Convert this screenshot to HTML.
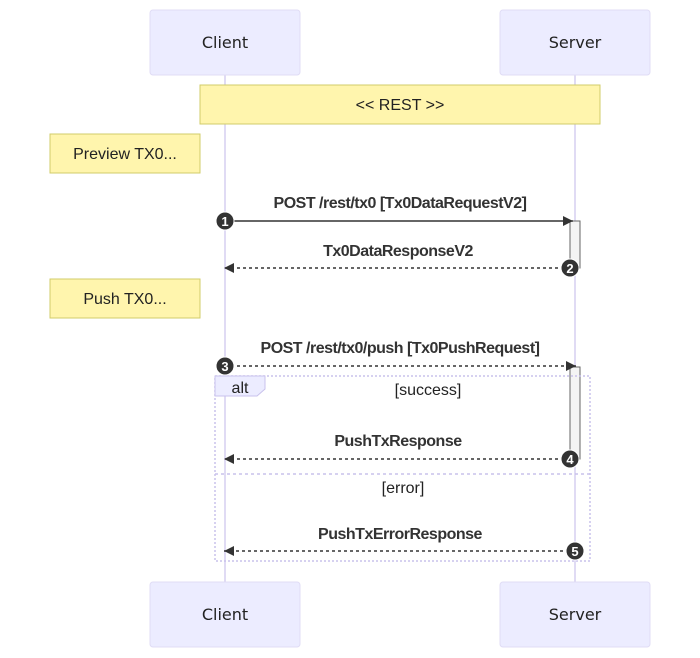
<!DOCTYPE html>
<html><head><meta charset="utf-8"><style>
html,body{margin:0;padding:0;background:#fff;width:700px;height:658px;overflow:hidden}
svg text{font-family:"Liberation Sans",Arial,sans-serif}
</style></head><body>
<svg width="700" height="658" viewBox="0 0 700 658" xmlns="http://www.w3.org/2000/svg">
<defs>
<marker id="ah" markerWidth="12" markerHeight="12" refX="10" refY="5" orient="auto" markerUnits="userSpaceOnUse"><path d="M0,0 L10,5 L0,10 z" fill="#333"/></marker>
</defs>
<line x1="225" y1="75" x2="225" y2="582" stroke="#d6cff0" stroke-width="1.5"/>
<line x1="575" y1="75" x2="575" y2="582" stroke="#d6cff0" stroke-width="1.5"/>
<g fill="#ececff" stroke="#e0dcf5" stroke-width="1">
<rect x="150" y="10" width="150" height="65" rx="3"/>
<rect x="500" y="10" width="150" height="65" rx="3"/>
<rect x="150" y="582" width="150" height="65" rx="3"/>
<rect x="500" y="582" width="150" height="65" rx="3"/>
</g>
<g font-size="16" fill="#222" text-anchor="middle">
<text x="225" y="48" style="font-family:'DejaVu Sans',sans-serif">Client</text>
<text x="575" y="48" style="font-family:'DejaVu Sans',sans-serif">Server</text>
<text x="225" y="620" style="font-family:'DejaVu Sans',sans-serif">Client</text>
<text x="575" y="620" style="font-family:'DejaVu Sans',sans-serif">Server</text>
</g>
<g fill="#fff5ad" stroke="#d0cc6a" stroke-width="1">
<rect x="200" y="85" width="400" height="39"/>
<rect x="50" y="134" width="150" height="39"/>
<rect x="50" y="279" width="150" height="39"/>
</g>
<g font-size="16" fill="#222" text-anchor="middle">
<text x="400" y="110">&lt;&lt; REST &gt;&gt;</text>
<text x="125" y="159">Preview TX0...</text>
<text x="125" y="304">Push TX0...</text>
</g>
<rect x="570" y="221" width="10" height="47" fill="#f4f4f4" stroke="#666"/>
<rect x="570" y="367" width="10" height="92" fill="#f4f4f4" stroke="#666"/>
<rect x="215" y="376" width="375" height="185" fill="none" stroke="#c9c2ec" stroke-width="1.5" stroke-dasharray="2,2"/>
<line x1="215" y1="474" x2="590" y2="474" stroke="#c9c2ec" stroke-width="1.5" stroke-dasharray="3,3"/>
<path d="M215,376 L265,376 L265,389 L257,396 L215,396 z" fill="#ececff" stroke="#c9c2ec"/>
<g font-size="16" fill="#222" text-anchor="middle">
<text x="240" y="393">alt</text>
<text x="428" y="395">[success]</text>
<text x="403" y="493">[error]</text>
</g>
<g stroke="#333" stroke-width="1.5" fill="none">
<line x1="225" y1="221" x2="573" y2="221" marker-end="url(#ah)"/>
<line x1="570" y1="268" x2="224" y2="268" stroke-dasharray="3,3" marker-end="url(#ah)"/>
<line x1="225" y1="366" x2="576" y2="366" stroke-dasharray="3,3" marker-end="url(#ah)"/>
<line x1="570" y1="459" x2="224" y2="459" stroke-dasharray="3,3" marker-end="url(#ah)"/>
<line x1="575" y1="551" x2="224" y2="551" stroke-dasharray="3,3" marker-end="url(#ah)"/>
</g>
<g font-size="16" font-weight="bold" fill="#333" text-anchor="middle" style="letter-spacing:-0.5px">
<text x="400" y="208">POST /rest/tx0 [Tx0DataRequestV2]</text>
<text x="398" y="256">Tx0DataResponseV2</text>
<text x="400" y="353">POST /rest/tx0/push [Tx0PushRequest]</text>
<text x="398" y="446">PushTxResponse</text>
<text x="400" y="539">PushTxErrorResponse</text>
</g>
<g fill="#333" stroke="#fff" stroke-width="1">
<circle cx="225" cy="221" r="9"/>
<circle cx="570" cy="268" r="9"/>
<circle cx="225" cy="366" r="9"/>
<circle cx="570" cy="459" r="9"/>
<circle cx="575" cy="551" r="9"/>
</g>
<g font-size="13" font-weight="bold" fill="#fff" text-anchor="middle">
<text x="225" y="226">1</text>
<text x="570" y="273">2</text>
<text x="225" y="371">3</text>
<text x="570" y="464">4</text>
<text x="575" y="556">5</text>
</g>
</svg>
</body></html>
